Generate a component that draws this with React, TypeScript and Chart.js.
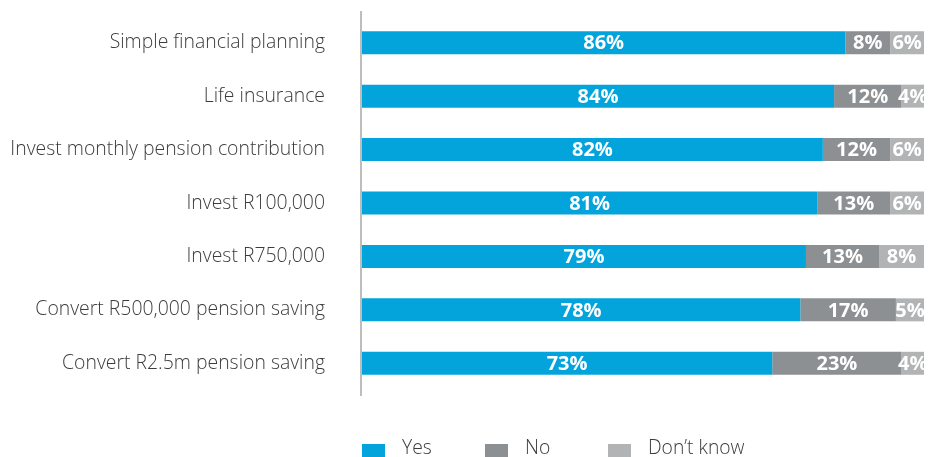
import React, { useEffect, useRef } from "react";
import { Chart, registerables } from "chart.js";

Chart.register(...registerables);

const categories = [
  "Simple financial planning",
  "Life insurance",
  "Invest monthly pension contribution",
  "Invest R100,000",
  "Invest R750,000",
  "Convert R500,000 pension saving",
  "Convert R2.5m pension saving",
];
const yesValues = [86, 84, 82, 81, 79, 78, 73];
const noValues = [8, 12, 12, 13, 13, 17, 23];
const dontKnowValues = [6, 4, 6, 6, 8, 5, 4];
const seriesNames = ["Yes", "No", "Don\u2019t know"];
const seriesColors = ["#03a4dc", "#8d9092", "#b1b3b4"];

const FONT = "'Open Sans', 'Noto Sans', sans-serif";

const barLabelPlugin = {
  id: "barLabels",
  afterDatasetsDraw(chart: any) {
    const ctx = chart.ctx;
    ctx.save();
    ctx.font = `bold 20px ${FONT}`;
    ctx.fillStyle = "#ffffff";
    ctx.textAlign = "center";
    ctx.textBaseline = "middle";
    chart.data.datasets.forEach((ds: any, di: number) => {
      const meta = chart.getDatasetMeta(di);
      meta.data.forEach((bar: any, i: number) => {
        const v = ds.data[i];
        const { x, base, y } = bar.getProps(["x", "base", "y"], true);
        ctx.fillText(`${v}%`, (x + base) / 2, y + 1);
      });
    });
    ctx.restore();
  },
};

const axisLinePlugin = {
  id: "axisLine",
  afterDraw(chart: any) {
    const { ctx, chartArea } = chart;
    ctx.save();
    ctx.strokeStyle = "#bdbdbd";
    ctx.lineWidth = 2;
    ctx.beginPath();
    ctx.moveTo(chartArea.left - 1, chartArea.top - 5);
    ctx.lineTo(chartArea.left - 1, chartArea.bottom + 6);
    ctx.stroke();
    ctx.restore();
  },
};

const legendPlugin = {
  id: "customLegend",
  afterDraw(chart: any) {
    const { ctx, chartArea } = chart;
    const step = 123;
    const box = 23;
    const top = chartArea.bottom + 54;
    ctx.save();
    ctx.font = `300 19.3px ${FONT}`;
    ctx.textAlign = "left";
    ctx.textBaseline = "alphabetic";
    chart.data.datasets.forEach((ds: any, i: number) => {
      const x = chartArea.left + i * step;
      ctx.fillStyle = ds.backgroundColor;
      ctx.fillRect(x, top, box, box);
      ctx.fillStyle = "#3c3c3c";
      ctx.fillText(ds.label, x + 40, top + 10);
    });
    ctx.restore();
  },
};

export default function App() {
  const ref = useRef<HTMLCanvasElement>(null);
  useEffect(() => {
    document.body.style.margin = "0";
    const chart = new Chart(ref.current!, {
      type: "bar",
      data: {
        labels: categories,
        datasets: [yesValues, noValues, dontKnowValues].map((d, i) => ({
          label: seriesNames[i],
          data: d,
          backgroundColor: seriesColors[i],
          borderWidth: 0,
          categoryPercentage: 1,
          barPercentage: 0.43,
        })),
      },
      options: {
        indexAxis: "y",
        animation: false,
        responsive: false,
        layout: { padding: { top: 16, bottom: 67, left: 0, right: 14 } },
        plugins: { legend: { display: false }, tooltip: { enabled: false } },
        scales: {
          x: { stacked: true, display: false, min: 0, max: 100 },
          y: {
            stacked: true,
            grid: { display: false },
            border: { display: false },
            afterFit(scale: any) {
              scale.width = 362;
              scale.paddingTop = 0;
              scale.paddingBottom = 0;
            },
            ticks: {
              padding: 29,
              color: "#3c3c3c",
              font: { family: FONT, size: 19.4, weight: "300" as any },
            },
          },
        },
      },
      plugins: [barLabelPlugin, axisLinePlugin, legendPlugin],
    });
    return () => chart.destroy();
  }, []);
  return (
    <div style={{ width: 938, height: 457 }}>
      <canvas ref={ref} width={938} height={457} style={{ display: "block" }} />
    </div>
  );
}
